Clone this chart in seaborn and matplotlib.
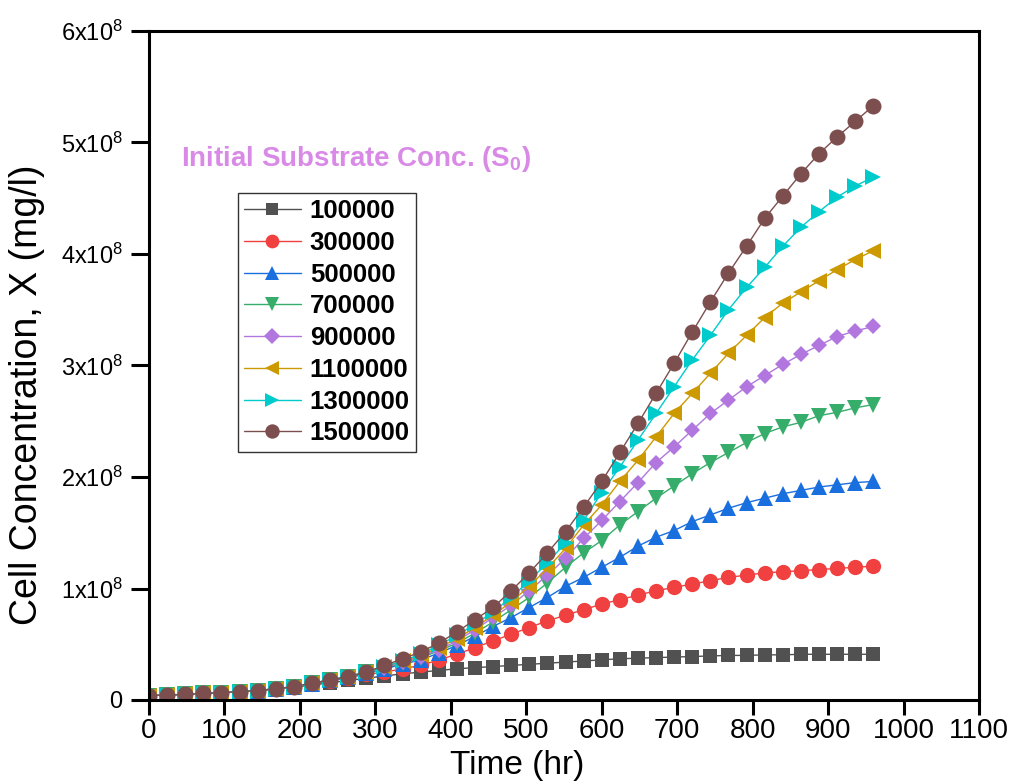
import matplotlib
matplotlib.use("Agg")
import matplotlib.pyplot as plt
import numpy as np
import pandas as pd
import seaborn as sns

# time points (hr)
time_hr = list(range(0, 961, 24))

s0_labels = ["100000", "300000", "500000", "700000",
             "900000", "1100000", "1300000", "1500000"]

# cell concentration, units of 1e8 mg/l
x_100000 = [0.04, 0.045, 0.05, 0.06, 0.065, 0.075, 0.085, 0.10, 0.115, 0.135,
            0.155, 0.175, 0.195, 0.215, 0.235, 0.25, 0.265, 0.28, 0.29, 0.30,
            0.31, 0.32, 0.33, 0.34, 0.35, 0.36, 0.37, 0.375, 0.38, 0.385,
            0.39, 0.395, 0.40, 0.40, 0.405, 0.405, 0.41, 0.41, 0.41, 0.41, 0.41]
x_300000 = [0.04, 0.045, 0.05, 0.06, 0.065, 0.075, 0.085, 0.10, 0.12, 0.14,
            0.17, 0.20, 0.23, 0.25, 0.28, 0.31, 0.36, 0.41, 0.47, 0.53,
            0.59, 0.65, 0.71, 0.76, 0.81, 0.86, 0.90, 0.94, 0.98, 1.01,
            1.04, 1.07, 1.10, 1.12, 1.14, 1.15, 1.16, 1.17, 1.18, 1.19, 1.20]
x_500000 = [0.04, 0.045, 0.05, 0.06, 0.065, 0.075, 0.085, 0.10, 0.12, 0.145,
            0.175, 0.205, 0.24, 0.28, 0.32, 0.36, 0.42, 0.49, 0.57, 0.66,
            0.74, 0.83, 0.92, 1.02, 1.10, 1.19, 1.28, 1.38, 1.46, 1.52,
            1.60, 1.66, 1.72, 1.77, 1.81, 1.85, 1.88, 1.91, 1.93, 1.95, 1.96]
x_700000 = [0.04, 0.045, 0.05, 0.06, 0.065, 0.075, 0.085, 0.10, 0.12, 0.15,
            0.18, 0.21, 0.25, 0.29, 0.33, 0.38, 0.44, 0.51, 0.60, 0.70,
            0.81, 0.92, 1.05, 1.19, 1.32, 1.43, 1.57, 1.69, 1.81, 1.92,
            2.03, 2.13, 2.22, 2.31, 2.39, 2.45, 2.49, 2.55, 2.58, 2.62, 2.65]
x_900000 = [0.04, 0.045, 0.05, 0.06, 0.065, 0.075, 0.085, 0.10, 0.12, 0.15,
            0.18, 0.21, 0.25, 0.29, 0.34, 0.39, 0.45, 0.53, 0.63, 0.74,
            0.85, 0.98, 1.12, 1.27, 1.45, 1.61, 1.78, 1.95, 2.13, 2.27,
            2.42, 2.57, 2.69, 2.81, 2.91, 3.01, 3.10, 3.18, 3.26, 3.31, 3.35]
x_1100000 = [0.04, 0.045, 0.05, 0.06, 0.065, 0.075, 0.085, 0.10, 0.12, 0.15,
             0.18, 0.21, 0.25, 0.30, 0.35, 0.40, 0.47, 0.55, 0.65, 0.76,
             0.88, 1.02, 1.18, 1.36, 1.57, 1.75, 1.96, 2.15, 2.36, 2.57,
             2.75, 2.93, 3.11, 3.27, 3.43, 3.56, 3.66, 3.76, 3.86, 3.95, 4.03]
x_1300000 = [0.04, 0.045, 0.05, 0.06, 0.065, 0.075, 0.085, 0.10, 0.12, 0.15,
             0.18, 0.21, 0.25, 0.30, 0.35, 0.41, 0.49, 0.58, 0.68, 0.79,
             0.92, 1.07, 1.23, 1.41, 1.61, 1.86, 2.09, 2.33, 2.57, 2.81,
             3.05, 3.27, 3.50, 3.70, 3.88, 4.07, 4.24, 4.38, 4.51, 4.61, 4.69]
x_1500000 = [0.04, 0.045, 0.05, 0.06, 0.065, 0.075, 0.085, 0.10, 0.12, 0.15,
             0.18, 0.21, 0.25, 0.31, 0.37, 0.43, 0.51, 0.61, 0.72, 0.83,
             0.98, 1.14, 1.32, 1.51, 1.73, 1.96, 2.22, 2.48, 2.75, 3.02,
             3.30, 3.57, 3.83, 4.07, 4.32, 4.52, 4.72, 4.90, 5.05, 5.19, 5.33]

series = [x_100000, x_300000, x_500000, x_700000,
          x_900000, x_1100000, x_1300000, x_1500000]

colors = ["#515151", "#F14040", "#1A6FDF", "#37AD6B",
          "#B177DE", "#CC9900", "#00CBCC", "#7D4E4E"]
markers = ["s", "o", "^", "v", "D", "<", ">", "o"]
msizes = [10, 11, 11, 11, 8.5, 11, 11, 11.5]

sns.set_style("ticks")
plt.rcParams["font.family"] = ["Liberation Sans", "DejaVu Sans"]
plt.rcParams["mathtext.fontset"] = "custom"
plt.rcParams["mathtext.rm"] = "Liberation Sans"
plt.rcParams["mathtext.bf"] = "Liberation Sans:bold"
plt.rcParams["mathtext.default"] = "regular"
plt.rcParams["text.color"] = "black"
plt.rcParams["axes.labelcolor"] = "black"
plt.rcParams["xtick.color"] = "black"
plt.rcParams["ytick.color"] = "black"

fig = plt.figure(figsize=(10.12, 7.84), dpi=100)
ax = fig.add_axes([149 / 1012, 84 / 784, 830 / 1012, 669 / 784])

for lab, vals, c, m, ms in zip(s0_labels, series, colors, markers, msizes):
    df = pd.DataFrame({"time": time_hr, "X": np.array(vals) * 1e8})
    sns.lineplot(data=df, x="time", y="X", ax=ax, color=c, marker=m,
                 markersize=ms, markeredgewidth=0, linewidth=1.0,
                 label=lab, legend=False)

ax.set_xlim(0, 1100)
ax.set_ylim(0, 6e8)
ax.set_xticks(range(0, 1101, 100))
yt = [i * 1e8 for i in range(7)]
ax.set_yticks(yt)
ax.set_yticklabels(["0"] + [f"{i}x10$^{{8}}$" for i in range(1, 7)])

for sp in ax.spines.values():
    sp.set_linewidth(2.2)
    sp.set_color("black")
ax.tick_params(axis="both", direction="out", length=11, width=2.2,
               labelsize=20, top=False, right=False, pad=2)
ax.tick_params(axis="y", labelsize=17, length=13, pad=6)

ax.set_xlabel("Time (hr)", fontsize=24)
ax.set_ylabel("Cell Concentration, X (mg/l)", fontsize=27)
ax.xaxis.set_label_coords(0.443, -0.074)
ax.yaxis.set_label_coords(-0.125, 0.456)

ax.text(0.0386, 0.809, "Initial Substrate Conc. (S$_{\\mathbf{0}}$)",
        transform=ax.transAxes, ha="left", va="center",
        fontsize=20, fontweight="bold", color="#D98AE6")

handles, labels = ax.get_legend_handles_labels()
leg = ax.legend(handles, labels, loc="upper left",
                bbox_to_anchor=(0.107, 0.758), borderaxespad=0,
                borderpad=0.25, handlelength=2.2, handletextpad=0.35,
                labelspacing=0.3, frameon=True, fancybox=False,
                markerscale=0.9, prop={"weight": "bold", "size": 18.5})
leg.get_frame().set_edgecolor("black")
leg.get_frame().set_linewidth(1.0)

fig.savefig("out.png", dpi=100)
